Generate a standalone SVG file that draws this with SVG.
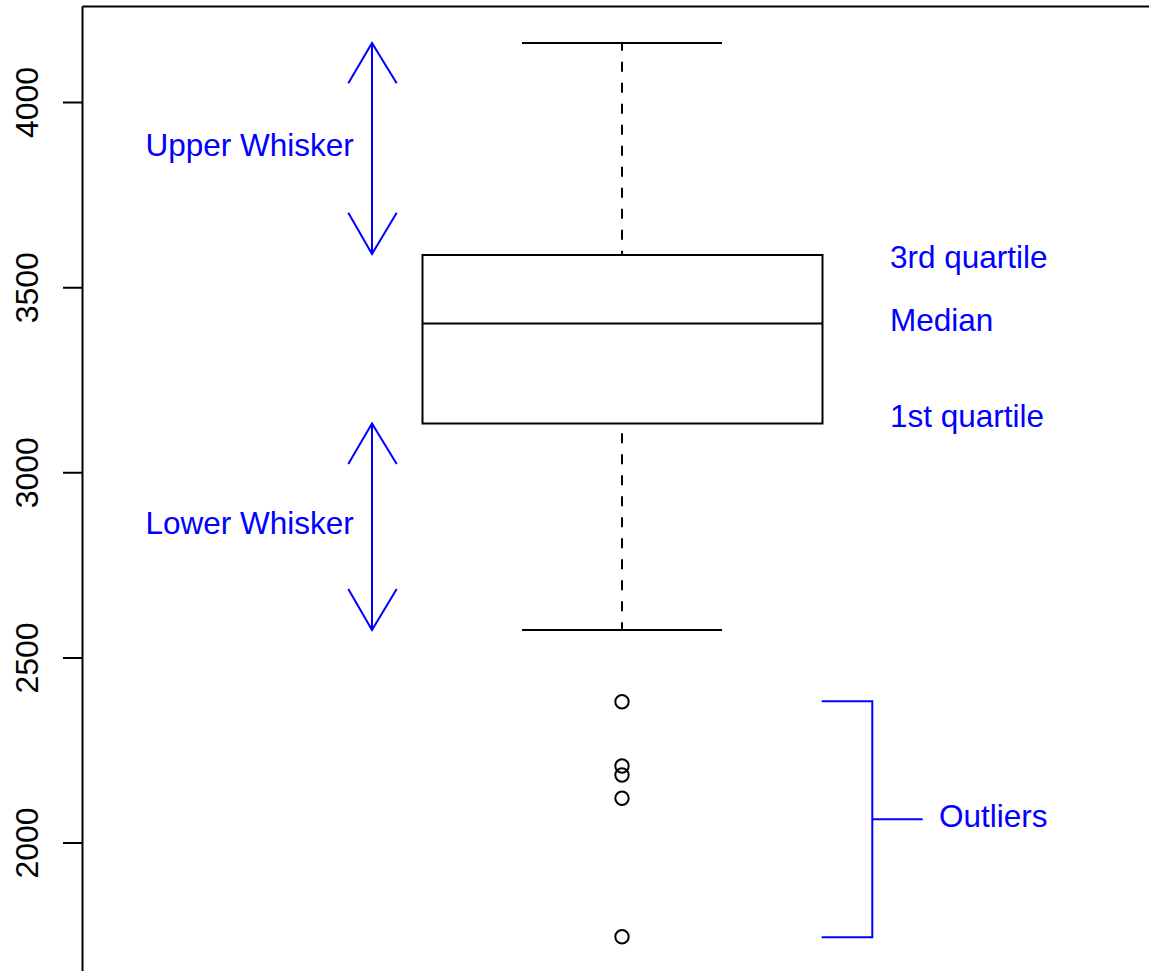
<svg xmlns="http://www.w3.org/2000/svg" width="1149" height="971" viewBox="0 0 1149 971">
<style>
.k{stroke:#000;stroke-width:2;fill:none}
.b{stroke:#0000ff;stroke-width:2;fill:none}
.ax{font-family:"Liberation Sans",Arial,sans-serif;font-size:32px;fill:#000;text-anchor:middle}
.lb{font-family:"Liberation Sans",Arial,sans-serif;font-size:31.5px;fill:#0000ff}
.d{stroke:#000;stroke-width:2;fill:none;stroke-dasharray:10 11}
</style>
<rect width="1149" height="971" fill="#fff"/>
<g id="axis">
<path class="k" d="M82.5 6.5H1150M82.5 6.5V972"/>
<path class="k" d="M63 102.5H82.5M63 287.7H82.5M63 472.7H82.5M63 658H82.5M63 843H82.5"/>
<text class="ax" transform="translate(38,102.5) rotate(-90)">4000</text>
<text class="ax" transform="translate(38,287.7) rotate(-90)">3500</text>
<text class="ax" transform="translate(38,472.7) rotate(-90)">3000</text>
<text class="ax" transform="translate(38,658) rotate(-90)">2500</text>
<text class="ax" transform="translate(38,843) rotate(-90)">2000</text>
</g>
<g id="boxplot">
<rect class="k" x="422.5" y="255" width="400" height="168.5"/>
<line class="k" x1="422.5" y1="323.5" x2="822.5" y2="323.5"/>
<line class="k" x1="522" y1="43" x2="722" y2="43"/>
<line class="k" x1="522" y1="630" x2="722" y2="630"/>
<line class="d" x1="622" y1="43" x2="622" y2="255" stroke-dashoffset="2.3"/>
<line class="d" x1="622" y1="423.5" x2="622" y2="630" stroke-dashoffset="11.3"/>
</g>
<g id="outliers">
<circle class="k" cx="622" cy="701.7" r="6.7"/>
<circle class="k" cx="622" cy="766" r="6.7"/>
<circle class="k" cx="622" cy="775" r="6.7"/>
<circle class="k" cx="622" cy="798.3" r="6.7"/>
<circle class="k" cx="622" cy="936.7" r="6.7"/>
</g>
<g id="connectors">
<path class="b" d="M372 43V254M348.3 83.3L372 43L396.7 83.3M348.3 212.7L372 254L396.7 212.7"/>
<path class="b" d="M372 423.5V630M348.3 464L372 423.5L396.7 464M348.3 589L372 630L396.7 589"/>
<path class="b" d="M821.7 701.3H872.3V937.3H821.7M872.3 819.3H922.7"/>
</g>
<g id="labels">
<text class="lb" x="145.5" y="156">Upper Whisker</text>
<text class="lb" x="145.5" y="534">Lower Whisker</text>
<text class="lb" x="890" y="268.3">3rd quartile</text>
<text class="lb" x="890" y="331">Median</text>
<text class="lb" x="890" y="426.7">1st quartile</text>
<text class="lb" x="939" y="827">Outliers</text>
</g>
</svg>
